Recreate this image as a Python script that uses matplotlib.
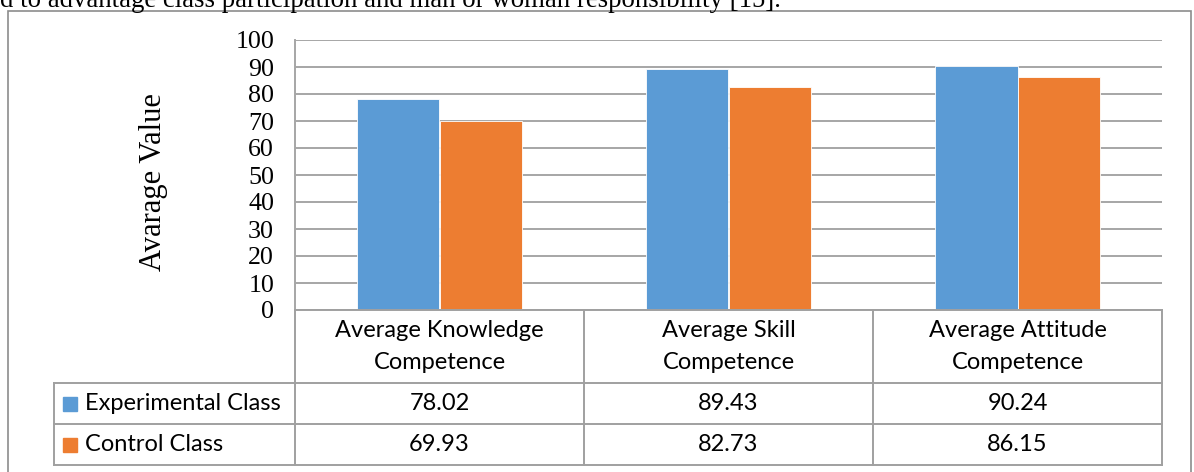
import matplotlib
matplotlib.use("Agg")
import matplotlib.pyplot as plt
from matplotlib.patches import Rectangle
import numpy as np

# data
categories = ["Average Knowledge\nCompetence", "Average Skill\nCompetence", "Average Attitude\nCompetence"]
series_names = ["Experimental Class", "Control Class"]
experimental = [78.02, 89.43, 90.24]
control = [69.93, 82.73, 86.15]
yticks = [0, 10, 20, 30, 40, 50, 60, 70, 80, 90, 100]

BLUE, ORANGE, GRID = "#5B9BD5", "#ED7D31", "#A6A6A6"
SERIF = "Liberation Serif"
SANS = "Lato"
W, H = 1194, 472

fig = plt.figure(figsize=(W / 100, H / 100), dpi=100)

def fx(px): return px / W
def fy(px): return 1 - px / H

# outer frame of the figure box
fig.add_artist(Rectangle((fx(8), fy(490)), fx(1191) - fx(8), fy(11) - fy(490),
                         transform=fig.transFigure, fill=False, ec="#8C8C8C", lw=1.2))
# clipped line of body text above the chart
fig.text(0, fy(7), "d to advantage class participation and man or woman responsibility [15].",
         family=SERIF, fontsize=19.3, va="baseline", ha="left")

x0, x1 = 295, 1162
ax = fig.add_axes([fx(x0), fy(310), fx(x1) - fx(x0), fy(40) - fy(310)])
x = np.arange(len(categories)) + 0.5
bw = 0.284
ax.bar(x - bw / 2, experimental, bw, color=BLUE, ec="white", lw=0.6, zorder=3)
ax.bar(x + bw / 2, control, bw, color=ORANGE, ec="white", lw=0.6, zorder=3)
ax.set_xlim(0, len(categories))
ax.set_ylim(0, 100)
ax.set_yticks(yticks)
ax.set_yticklabels([str(t) for t in yticks], family=SERIF, fontsize=18.7)
ax.tick_params(axis="y", length=0, pad=15)
ax.set_xticks([])
ax.yaxis.grid(True, color=GRID, lw=1.4, zorder=0)
for s in ["top", "right", "bottom"]:
    ax.spines[s].set_visible(False)
ax.spines["left"].set_color(GRID)
ax.spines["left"].set_linewidth(1.4)
fig.text(fx(154), fy(182), "Avarage Value", family=SERIF, fontsize=22,
         rotation=90, ha="center", va="center")

# data table below the bars (pixel rows: header 73, data rows 41)
tb = fig.add_axes([fx(x0), fy(465), fx(x1) - fx(x0), fy(310) - fy(465)])
tb.set_xlim(0, len(categories))
tb.set_ylim(155, 0)
tb.axis("off")
hdr_left = -241 / 289
lc = dict(color="#A0A0A0", lw=1.4, clip_on=False)
tb.plot([0, 3], [0, 0], **lc)
for yl in [73, 114, 155]:
    tb.plot([hdr_left, 3], [yl, yl], **lc)
for c in range(len(categories) + 1):
    tb.plot([c, c], [0, 155], **lc)
tb.plot([hdr_left, hdr_left], [73, 155], **lc)

for i, cat in enumerate(categories):
    tb.text(i + 0.5, 36.5, cat, ha="center", va="center", family=SANS,
            fontsize=17, linespacing=1.7)
for r, (name, vals, col) in enumerate(zip(series_names, [experimental, control], [BLUE, ORANGE])):
    yc = 93.5 + 41 * r
    tb.add_patch(Rectangle((hdr_left + 9 / 289, yc - 7), 14 / 289, 14, color=col, clip_on=False))
    tb.text(hdr_left + 31 / 289, yc, name, ha="left", va="center", family=SANS, fontsize=17)
    for i, v in enumerate(vals):
        tb.text(i + 0.5, yc, f"{v:.2f}", ha="center", va="center", family=SANS, fontsize=17)

fig.savefig("out.png", dpi=100)
